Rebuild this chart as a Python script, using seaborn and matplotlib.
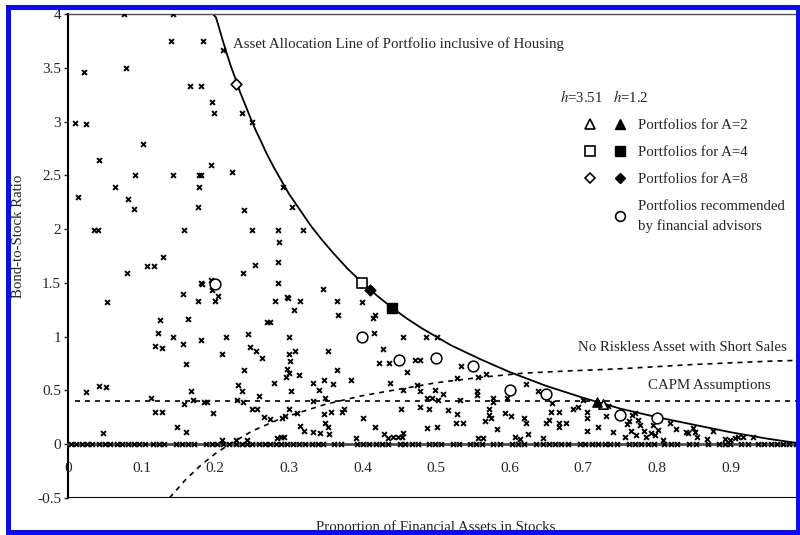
import numpy as np
import pandas as pd
import matplotlib
matplotlib.use("Agg")
import matplotlib.pyplot as plt
from matplotlib.lines import Line2D
from matplotlib.patches import Rectangle
from matplotlib.legend_handler import HandlerTuple
from matplotlib.ticker import FuncFormatter
import seaborn as sns

# Asset allocation line (portfolio inclusive of housing)
alloc_x = [0.197, 0.201, 0.205, 0.21, 0.215, 0.221, 0.228, 0.234, 0.24, 0.247, 0.255, 0.262,
           0.27, 0.28, 0.29, 0.30, 0.31, 0.32, 0.33, 0.345, 0.36, 0.38, 0.40, 0.42, 0.44,
           0.46, 0.48, 0.50, 0.52, 0.56, 0.60, 0.65, 0.70, 0.75, 0.80, 0.85, 0.90, 0.95, 0.99, 1.0]
alloc_y = [4.0, 3.97, 3.88, 3.76, 3.65, 3.52, 3.39, 3.27, 3.17, 3.05, 2.92, 2.82,
           2.70, 2.57, 2.45, 2.33, 2.23, 2.13, 2.03, 1.90, 1.78, 1.63, 1.50, 1.38, 1.27,
           1.17, 1.08, 1.00, 0.92, 0.79, 0.67, 0.54, 0.43, 0.33, 0.25, 0.18, 0.11, 0.05, 0.01, 0.0]

# No riskless asset with short sales (dashed)
short_x = [0.138, 0.16, 0.18, 0.20, 0.22, 0.25, 0.29, 0.35, 0.40, 0.45, 0.50, 0.56, 0.62,
           0.68, 0.75, 0.85, 0.95, 1.0]
short_y = [-0.5, -0.33, -0.20, -0.09, 0.0, 0.12, 0.24, 0.37, 0.45, 0.51, 0.57, 0.62, 0.66,
           0.68, 0.70, 0.74, 0.77, 0.78]

# CAPM assumptions (dashed, flat)
capm_x = [0.01, 1.0]
capm_y = [0.4, 0.4]

# households with positive bond-to-stock ratio
ratio_x = [0.076, 0.143, 0.14, 0.184, 0.21, 0.022, 0.079, 0.166, 0.181, 0.196, 0.199, 0.237, 0.25,
           0.01, 0.025, 0.102, 0.042, 0.194, 0.223, 0.091, 0.143, 0.178, 0.181,
           0.178, 0.292, 0.177, 0.239, 0.304, 0.158, 0.25, 0.285, 0.319, 0.287, 0.129, 0.107,
           0.117, 0.254, 0.285, 0.238, 0.285, 0.182, 0.194, 0.196, 0.204, 0.156, 0.346, 0.299,
           0.013, 0.064, 0.082, 0.09, 0.036, 0.041, 0.08, 0.053, 0.177, 0.2, 0.181, 0.125, 0.163,
           0.27, 0.122, 0.143, 0.156, 0.118, 0.128, 0.181, 0.215, 0.245, 0.247, 0.255, 0.209, 0.263,
           0.024, 0.042, 0.052, 0.048, 0.113, 0.118, 0.128, 0.148, 0.161, 0.16, 0.167, 0.17, 0.158,
           0.185, 0.189, 0.197, 0.209, 0.228, 0.243, 0.231, 0.236, 0.229, 0.238, 0.239, 0.25,
           0.257, 0.26, 0.266,
           0.281, 0.298, 0.315, 0.307, 0.365, 0.4, 0.367, 0.415, 0.417, 0.274, 0.3, 0.416, 0.3,
           0.309, 0.353, 0.428, 0.423, 0.436, 0.302, 0.298, 0.3, 0.296, 0.314, 0.365, 0.28, 0.333,
           0.348, 0.36, 0.385, 0.438, 0.303, 0.341, 0.349, 0.333, 0.3, 0.311, 0.295, 0.348, 0.357,
           0.372, 0.375, 0.274, 0.291, 0.401, 0.349, 0.353, 0.315, 0.32, 0.333, 0.342, 0.355,
           0.417, 0.284, 0.29, 0.293, 0.391, 0.43, 0.435, 0.442, 0.448,
           0.455, 0.486, 0.501, 0.471, 0.478,
           0.461, 0.534, 0.528, 0.557, 0.568, 0.455, 0.474, 0.478, 0.499, 0.51, 0.556, 0.556,
           0.488, 0.494, 0.503, 0.533, 0.577, 0.577, 0.596, 0.622, 0.639, 0.658, 0.7, 0.453,
           0.478, 0.49, 0.516, 0.528, 0.572, 0.572, 0.575, 0.567, 0.594, 0.602, 0.527, 0.537,
           0.62, 0.622, 0.656, 0.667, 0.686, 0.693, 0.653, 0.65, 0.667, 0.667, 0.677, 0.705,
           0.705, 0.731, 0.488, 0.501, 0.583, 0.607, 0.614, 0.625, 0.705, 0.72, 0.74, 0.557,
           0.564, 0.645, 0.455, 0.454,
           0.734, 0.76, 0.762, 0.766, 0.77, 0.757, 0.765, 0.772, 0.774, 0.777, 0.783, 0.785,
           0.792, 0.795, 0.798, 0.802, 0.808, 0.818, 0.826, 0.84, 0.842, 0.849, 0.852, 0.855,
           0.868, 0.876, 0.893, 0.9, 0.906, 0.91, 0.917, 0.931]
ratio_y = [4.0, 4.0, 3.75, 3.75, 3.67, 3.46, 3.5, 3.33, 3.33, 3.18, 3.08, 3.08, 3.0,
           2.99, 2.98, 2.79, 2.64, 2.6, 2.53, 2.5, 2.5, 2.5, 2.5,
           2.39, 2.39, 2.21, 2.18, 2.21, 1.99, 1.99, 1.99, 1.99, 1.88, 1.74, 1.66,
           1.66, 1.67, 1.69, 1.59, 1.5, 1.49, 1.53, 1.43, 1.38, 1.4, 1.44, 1.36,
           2.3, 2.39, 2.28, 2.19, 1.99, 1.99, 1.59, 1.32, 1.33, 1.33, 1.5, 1.15, 1.16,
           1.14, 1.03, 1.0, 0.93, 0.91, 0.89, 0.97, 1.0, 1.02, 0.9, 0.87, 0.84, 0.8,
           0.48, 0.54, 0.53, 0.1, 0.43, 0.3, 0.3, 0.16, 0.11, 0.74, 0.49, 0.41, 0.37,
           0.39, 0.39, 0.29, 0.04, 0.04, 0.04, 0.55, 0.49, 0.41, 0.39, 0.69, 0.33,
           0.33, 0.45, 0.25,
           1.33, 1.37, 1.33, 1.25, 1.33, 1.32, 1.2, 1.17, 1.2, 1.14, 1.0, 1.03, 0.84,
           0.87, 0.87, 0.88, 0.75, 0.75, 0.77, 0.7, 0.66, 0.62, 0.64, 0.69, 0.57, 0.57,
           0.6, 0.56, 0.6, 0.57, 0.49, 0.5, 0.43, 0.4, 0.33, 0.29, 0.26, 0.28, 0.3,
           0.3, 0.33, 0.23, 0.24, 0.24, 0.2, 0.16, 0.17, 0.12, 0.11, 0.1, 0.09,
           0.16, 0.06, 0.07, 0.07, 0.06, 0.09, 0.06, 0.07, 0.07,
           1.0, 1.0, 1.0, 0.78, 0.78,
           0.67, 0.73, 0.61, 0.62, 0.65, 0.5, 0.55, 0.49, 0.5, 0.47, 0.49, 0.46,
           0.43, 0.43, 0.41, 0.41, 0.43, 0.39, 0.43, 0.56, 0.49, 0.38, 0.41, 0.33,
           0.34, 0.33, 0.32, 0.28, 0.33, 0.27, 0.24, 0.21, 0.29, 0.26, 0.2, 0.2,
           0.24, 0.2, 0.3, 0.3, 0.33, 0.34, 0.22, 0.2, 0.2, 0.16, 0.2, 0.3,
           0.24, 0.26, 0.15, 0.16, 0.14, 0.07, 0.05, 0.09, 0.12, 0.16, 0.11, 0.06,
           0.06, 0.06, 0.1, 0.07,
           0.35, 0.19, 0.21, 0.27, 0.29, 0.07, 0.12, 0.08, 0.22, 0.18, 0.12, 0.07,
           0.1, 0.18, 0.08, 0.13, 0.04, 0.2, 0.14, 0.11, 0.1, 0.15, 0.11, 0.07,
           0.05, 0.12, 0.05, 0.04, 0.06, 0.07, 0.07, 0.07]

# households holding no bonds (ratio = 0)
zero_x = [0.004, 0.011, 0.019, 0.026, 0.033, 0.042, 0.05, 0.057, 0.066, 0.073, 0.081, 0.09,
          0.097, 0.104, 0.115, 0.123, 0.13, 0.147, 0.155, 0.163, 0.171, 0.188, 0.196, 0.203,
          0.211, 0.219, 0.228, 0.236, 0.243, 0.25, 0.259, 0.267, 0.274, 0.283, 0.29, 0.297,
          0.306, 0.314, 0.322, 0.331, 0.339, 0.347, 0.362, 0.371, 0.393, 0.401, 0.409, 0.418,
          0.426, 0.435, 0.451, 0.458, 0.467, 0.475, 0.49, 0.498, 0.507, 0.523, 0.531, 0.546,
          0.555, 0.563, 0.578, 0.587, 0.603, 0.611, 0.62, 0.636, 0.645, 0.653, 0.662, 0.67,
          0.679, 0.695, 0.703, 0.712, 0.72, 0.729, 0.737, 0.746, 0.762, 0.771, 0.779, 0.788,
          0.796, 0.81, 0.819, 0.828, 0.844, 0.853, 0.87, 0.884, 0.892, 0.9, 0.915, 0.924,
          0.938, 0.946, 0.955, 0.963, 0.972, 0.98, 0.989]

# optimal portfolios: h = 3.51 (hollow) and h = 1.2 (filled)
a2_x = [0.727, 0.719]
a2_y = [0.37, 0.39]
a4_x = [0.40, 0.44]
a4_y = [1.50, 1.27]
a8_x = [0.228, 0.41]
a8_y = [3.35, 1.43]

# portfolios recommended by financial advisors
adv_x = [0.20, 0.40, 0.45, 0.50, 0.55, 0.60, 0.65, 0.75, 0.80]
adv_y = [1.49, 1.00, 0.78, 0.80, 0.73, 0.50, 0.47, 0.27, 0.24]

sns.set_style("white")
plt.rcParams["font.family"] = ["Liberation Serif", "DejaVu Serif"]
plt.rcParams["mathtext.fontset"] = "stix"
plt.rcParams["axes.unicode_minus"] = False

FS = 10.7

fig = plt.figure(figsize=(8, 5.35), dpi=100)
ax = fig.add_axes([0.085, 0.0696, 0.92, 0.904])

scatter_df = pd.DataFrame({"x": ratio_x, "y": ratio_y})
zero_df = pd.DataFrame({"x": zero_x, "y": [0.0] * len(zero_x)})

sns.scatterplot(data=scatter_df, x="x", y="y", marker="x", s=12, color="black",
                linewidth=1.4, ax=ax, zorder=3)
sns.scatterplot(data=zero_df, x="x", y="y", marker="x", s=12, color="black",
                linewidth=1.4, ax=ax, zorder=3, clip_on=False)

sns.lineplot(x=alloc_x, y=alloc_y, sort=False, estimator=None, color="black", lw=1.3, ax=ax)
sns.lineplot(x=short_x, y=short_y, sort=False, estimator=None, color="black", lw=1.2,
             linestyle=(0, (3, 3)), ax=ax)
sns.lineplot(x=capm_x, y=capm_y, sort=False, estimator=None, color="black", lw=1.2,
             linestyle=(0, (3, 3)), ax=ax)

# optimal portfolio markers
ax.scatter(a2_x[:1], a2_y[:1], marker="^", s=45, facecolor="white", edgecolor="black", lw=1.2, zorder=5)
ax.scatter(a2_x[1:], a2_y[1:], marker="^", s=45, color="black", zorder=5)
ax.scatter(a4_x[:1], a4_y[:1], marker="s", s=45, facecolor="white", edgecolor="black", lw=1.2, zorder=5)
ax.scatter(a4_x[1:], a4_y[1:], marker="s", s=55, color="black", zorder=5)
ax.scatter(a8_x[:1], a8_y[:1], marker="D", s=30, facecolor="white", edgecolor="black", lw=1.2, zorder=5)
ax.scatter(a8_x[1:], a8_y[1:], marker="D", s=30, color="black", zorder=5)
ax.scatter(adv_x, adv_y, marker="o", s=60, facecolor="white", edgecolor="black", lw=1.1, zorder=5)

ax.set_xlim(0, 1.0)
ax.set_ylim(-0.5, 4)
ax.set_xticks([0, 0.1, 0.2, 0.3, 0.4, 0.5, 0.6, 0.7, 0.8, 0.9])
ax.set_yticks([-0.5, 0, 0.5, 1, 1.5, 2, 2.5, 3, 3.5, 4])
fmt = FuncFormatter(lambda v, p: f"{v:g}")
ax.xaxis.set_major_formatter(fmt)
ax.yaxis.set_major_formatter(fmt)
ax.tick_params(axis="x", length=0, pad=13, labelsize=11)
ax.tick_params(axis="y", length=3, width=1, pad=2, labelsize=11, left=True)

# Excel style: x axis crosses at zero, plot area framed at -0.5
ax.spines["bottom"].set_position(("data", 0))
ax.spines["bottom"].set_color("0.3")
ax.spines["bottom"].set_linewidth(2)
ax.spines["left"].set_linewidth(1.5)
ax.spines["left"].set_color("black")
ax.spines["top"].set_color("0.3")
ax.spines["top"].set_linewidth(1)
ax.spines["right"].set_visible(False)
ax.axhline(-0.5, color="black", lw=1.5)

ax.set_xlabel("Proportion of Financial Assets in Stocks", fontsize=FS, va="top")
ax.set_ylabel("Bond-to-Stock Ratio", fontsize=FS)
ax.xaxis.set_label_coords(0.5, -0.046)
ax.yaxis.set_label_coords(-0.058, 0.54)

ax.text(0.224, 3.72, "Asset Allocation Line of Portfolio inclusive of Housing",
        fontsize=FS, va="center", ha="left")
ax.text(0.693, 0.90, "No Riskless Asset with Short Sales", fontsize=FS, va="center", ha="left")
ax.text(0.788, 0.54, "CAPM Assumptions", fontsize=FS, va="center", ha="left")
ax.text(0.668, 3.23, "$h$=3.51   $h$=1.2", fontsize=FS, va="center", ha="left")

# legend: hollow marker for h=3.51, filled for h=1.2
def mk(m, filled, ms=7):
    if m is None:
        return Line2D([], [], ls="none", marker="")
    if filled:
        return Line2D([], [], ls="none", marker=m, color="black", ms=ms)
    return Line2D([], [], ls="none", marker=m, mfc="white", mec="black", mew=1.2, ms=ms)

handles = [(mk("^", False), mk("^", True)),
           (mk("s", False), mk("s", True)),
           (mk("D", False, 5.5), mk("D", True, 5.5)),
           (mk(None, False), mk("o", False))]
labels = ["Portfolios for A=2", "Portfolios for A=4", "Portfolios for A=8",
          "Portfolios recommended\nby financial advisors"]
leg = ax.legend(handles, labels, handler_map={tuple: HandlerTuple(ndivide=None, pad=0)},
                loc="upper left", bbox_to_anchor=(0.689, 0.784), frameon=False, fontsize=FS,
                handlelength=4.0, handletextpad=0.2, labelspacing=0.93, borderpad=0,
                borderaxespad=0)
for t in leg.get_texts():
    t.set_linespacing(1.55)

# scanned-page blue frame
fig.add_artist(Rectangle((0.0094, 0.0056), 0.9875, 0.9804, transform=fig.transFigure,
                         fill=False, edgecolor="#0a0aff", lw=3.6, zorder=10))

fig.savefig("out.png", dpi=100, facecolor="white")
